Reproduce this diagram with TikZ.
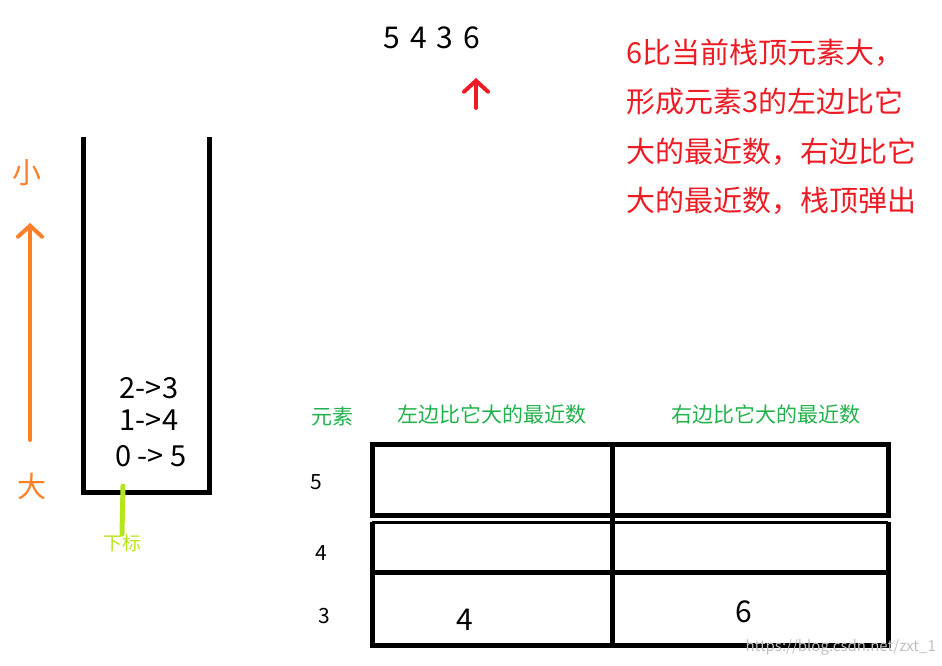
\documentclass[tikz,border=0pt]{standalone}
\usepackage{fontspec}
\setmainfont{Noto Sans CJK SC}
\usetikzlibrary{positioning,arrows.meta}
\definecolor{paintorange}{RGB}{255,127,39}
\definecolor{paintred}{RGB}{237,28,36}
\definecolor{paintgreen}{RGB}{34,177,76}
\definecolor{paintlime}{RGB}{181,230,29}

\begin{document}
\begin{tikzpicture}[x=1pt,y=-1pt,
                    wall/.style={line width=5pt,line join=miter},
                    pen/.style={line width=4pt,line cap=round,
                                -{Straight Barb[length=11pt,width=24pt,line cap=round]}},
                    big/.style={inner sep=0pt,font=\fontsize{29}{34}\selectfont},
                    mid/.style={inner sep=0pt,font=\fontsize{21}{25}\selectfont},
                    small/.style={inner sep=0pt,font=\fontsize{19}{23}\selectfont}]
  \useasboundingbox (0,0) rectangle (942,666);

  % stack
  \draw[wall] (83,137) -- (83,492) -- (209,492) -- (209,137);
  \node[big] (top)    at (149,388) {2->3};
  \node[big] (second) at (149,420) {1->4};
  \node[big] (bottom) at (151,456) {0 -> 5};

  \node[small,text=paintlime] (index) at (122,543) {下标};
  \draw[paintlime,line width=5pt,line cap=round] (123,486) -- (index.north);

  % order of the stack
  \node[big,text=paintorange] (little) at (27,173) {小};
  \node[big,text=paintorange] (large)  at (32,486) {大};
  \coordinate (up)   at (30,223);
  \coordinate (down) at (30,440);
  \draw[pen,paintorange] (down) -- (up);

  % input sequence
  \node[big,font=\fontsize{30}{34}\selectfont] (seq) at (432,38)
       {5\hspace{10pt}4\hspace{10pt}3\hspace{10pt}6};
  \coordinate (cur) at (476,108);
  \coordinate (curtip) at (476,78);
  \draw[pen,paintred] (cur) -- (curtip);

  \node[big,text=paintred,align=left,font=\fontsize{29}{49.5}\selectfont]
       (note) at (626,127) [anchor=west]
       {6比当前栈顶元素大，\\形成元素3的左边比它\\大的最近数，右边比它\\大的最近数，栈顶弹出};

  % result table
  \draw[wall] (372,444) rectangle (888,515);
  \draw[wall] (372,572) -- (888,572);
  \draw[wall] (372,522) |- (888,645) -- (888,522);
  \draw[line width=3pt] (372,522) -- (888,522);
  \draw[wall] (612,444) -- (612,645);

  \node[mid,text=paintgreen] (elem)  at (332,416) {元素};
  \node[mid,text=paintgreen] (left)  at (492,414) {左边比它大的最近数};
  \node[mid,text=paintgreen] (right) at (766,414) {右边比它大的最近数};

  \node[mid] (row5) at (316,482) {5};
  \node[mid] (row4) at (321,553) {4};
  \node[mid] (row3) at (324,616) {3};

  \node[big,font=\fontsize{30}{34}\selectfont] (left3)  at (465,620) {4};
  \node[big,font=\fontsize{30}{34}\selectfont] (right3) at (744,612) {6};

  \node[inner sep=0pt,text=black!25,font=\fontsize{15}{17}\selectfont,anchor=east]
       (mark) at (936,647) {https://blog.csdn.net/zxt\_1};
\end{tikzpicture}
\end{document}
